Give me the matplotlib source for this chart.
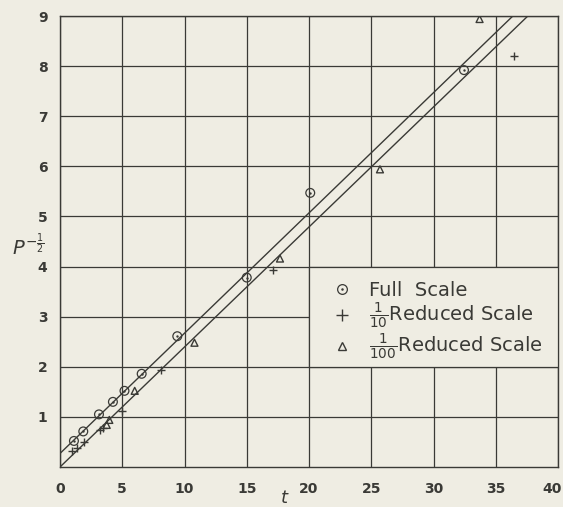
import matplotlib
matplotlib.use('Agg')
import numpy as np
import matplotlib.pyplot as plt
import matplotlib.transforms as mtransforms
from matplotlib.patches import Rectangle
from matplotlib.lines import Line2D

# data (t versus P^-1/2)
full_t = [1.12, 1.87, 3.13, 4.25, 5.18, 6.56, 9.42, 15.0, 20.1, 32.45]
full_p = [0.52, 0.71, 1.05, 1.30, 1.52, 1.86, 2.61, 3.78, 5.47, 7.92]

tenth_t = [0.94, 1.34, 1.93, 3.21, 3.48, 4.95, 8.13, 17.08, 36.5]
tenth_p = [0.31, 0.37, 0.49, 0.74, 0.77, 1.11, 1.94, 3.93, 8.20]

hundredth_t = [3.75, 3.96, 6.0, 10.8, 17.67, 25.7, 33.7]
hundredth_p = [0.84, 0.94, 1.52, 2.48, 4.16, 5.94, 8.94]

# two fitted straight lines
fit_slope = [0.240, 0.2395]
fit_intercept = [0.27, 0.0]

x_ticks = [0, 5, 10, 15, 20, 25, 30, 35, 40]
y_ticks = [1, 2, 3, 4, 5, 6, 7, 8, 9]

bg = '#efede3'
ink = '#3a3a36'

fig = plt.figure(figsize=(5.63, 5.07), dpi=100, facecolor=bg)
ax = fig.add_axes([60 / 563, 1 - 467 / 507, 498 / 563, 451 / 507])
ax.set_facecolor(bg)

ax.set_xlim(0, 40)
ax.set_ylim(0, 9)
ax.set_xticks(x_ticks)
ax.set_yticks(y_ticks)
ax.grid(True, color=ink, lw=0.9, zorder=0)
ax.set_axisbelow(True)
for s in ax.spines.values():
    s.set_color(ink)
    s.set_linewidth(1.0)
ax.tick_params(length=0, pad=11, labelsize=10, colors=ink)
ax.tick_params(axis='y', pad=9)
for lab in ax.get_xticklabels() + ax.get_yticklabels():
    lab.set_fontweight('bold')
# last x label sits just inside the right edge
last = ax.get_xticklabels()[-1]
last.set_transform(last.get_transform() + mtransforms.ScaledTranslation(-6 / 100, 0, fig.dpi_scale_trans))

# fitted lines
xx = np.array([0, 40])
for m, c in zip(fit_slope, fit_intercept):
    ax.plot(xx, m * xx + c, color=ink, lw=1.0, zorder=2)

# legend box covers the grid
ax.add_patch(Rectangle((20, 2), 20, 2, facecolor=bg, edgecolor=ink, lw=0.9, zorder=3))

ax.scatter(full_t, full_p, marker='o', s=40, facecolor='none', edgecolor=ink, lw=0.9, zorder=4)
ax.scatter(full_t, full_p, marker='o', s=3, color=ink, lw=0, zorder=4)
ax.scatter(tenth_t, tenth_p, marker='+', s=40, color=ink, lw=1.0, zorder=4)
ax.scatter(hundredth_t, hundredth_p, marker='^', s=25, facecolor='none', edgecolor=ink, lw=1.0, zorder=4)

circ = (Line2D([], [], ls='none', marker='o', ms=7, mfc='none', mec=ink, mew=0.9),
        Line2D([], [], ls='none', marker='o', ms=1.8, mfc=ink, mec=ink, mew=0))
handles = [
    circ,
    Line2D([], [], ls='none', marker='+', ms=8, color=ink, mew=1.0),
    Line2D([], [], ls='none', marker='^', ms=6, mfc='none', mec=ink, mew=1.0),
]
labels = ['Full  Scale', r'$\frac{1}{10}$Reduced Scale', r'$\frac{1}{100}$Reduced Scale']
leg = ax.legend(handles, labels, loc='upper left', bbox_to_anchor=(21.1, 3.9),
                bbox_transform=ax.transData, frameon=False, fontsize=14,
                handlelength=1.0, handletextpad=0.9, labelspacing=0.05,
                borderpad=0.0, labelcolor=ink)
leg.set_zorder(5)

fig.text(28 / 563, 1 - 246 / 507, r'$P^{-\frac{1}{2}}$', fontsize=14, color=ink,
         ha='center', va='center')
fig.text(284 / 563, 1 - 498 / 507, 't', fontsize=13, style='italic', color=ink,
         ha='center', va='center')

fig.savefig('out.png', dpi=100, facecolor=bg)
